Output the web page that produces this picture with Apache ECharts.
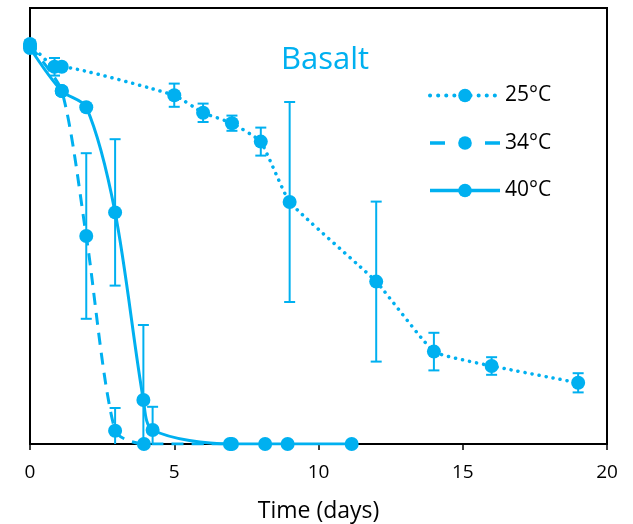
<!DOCTYPE html>
<html>
<head>
<meta charset="utf-8">
<script src="https://cdn.jsdelivr.net/npm/echarts@6/dist/echarts.min.js"></script>
<style>html,body{margin:0;padding:0;background:#fff;}#c{width:633px;height:524px;}</style>
</head>
<body>
<div id="c"></div>
<script>
// ---- data ----
const seriesNames = ['25°C', '34°C', '40°C'];
const days25 = [0, 0.85, 1.1, 5, 6, 7, 8, 9, 12, 14, 16, 19];
const vals25 = [1.0, 0.943, 0.943, 0.872, 0.828, 0.802, 0.756, 0.605, 0.406, 0.231, 0.195, 0.153];
const err25  = [0.01, 0.022, 0, 0.029, 0.023, 0.019, 0.035, 0.25, 0.20, 0.047, 0.022, 0.024];
const days34 = [0, 1.1, 1.95, 2.95, 3.95, 7];
const vals34 = [0.995, 0.8825, 0.52, 0.033, 0, 0];
const err34  = [0, 0, 0.207, 0.057, 0, 0];
const days40 = [0, 1.1, 1.95, 2.95, 3.93, 4.25, 6.93, 8.15, 8.93, 11.15];
const vals40 = [0.99, 0.8825, 0.842, 0.579, 0.11, 0.035, 0, 0, 0, 0];
const err40  = [0, 0.01, 0, 0.183, 0.1875, 0.058, 0, 0, 0, 0];
const xTicks = [0, 5, 10, 15, 20];
const titleText = 'Basalt';
const xAxisTitle = 'Time (days)';

const COLOR = '#00B0F0';
const YMAX = 1.09;
const FONT = 'Open Sans';

function pts(d, v) { return d.map((x, i) => [x, v[i]]); }
function errPts(d, v, e) { return d.map((x, i) => [x, v[i], e[i]]); }

function renderErr(params, api) {
  const x = api.value(0), y = api.value(1), e = api.value(2);
  if (!e) return null;
  const lo = y - e, hi = y + e;
  const top = api.coord([x, Math.min(hi, YMAX)]);
  const bot = api.coord([x, Math.max(lo, 0)]);
  const cw = 5.5;
  const st = { stroke: COLOR, lineWidth: 2 };
  const children = [
    { type: 'line', shape: { x1: top[0], y1: top[1], x2: bot[0], y2: bot[1] }, style: st },
    { type: 'line', shape: { x1: top[0] - cw, y1: top[1], x2: top[0] + cw, y2: top[1] }, style: st }
  ];
  if (lo >= 0) children.push({ type: 'line', shape: { x1: bot[0] - cw, y1: bot[1], x2: bot[0] + cw, y2: bot[1] }, style: st });
  return { type: 'group', children };
}

const lineTypes = [[0.1, 7], [12, 8], 'solid'];
const legendLineTypes = [[0.1, 8], [15, 40], 'solid'];
const smooths = [0.12, 0.25, 0.3];
const datasets = [[days25, vals25, err25], [days34, vals34, err34], [days40, vals40, err40]];

const series = [];
datasets.forEach((ds, i) => {
  series.push({
    type: 'custom', name: 'err' + i, renderItem: renderErr,
    data: errPts(ds[0], ds[1], ds[2]), encode: { x: 0, y: 1 }, z: 3, silent: true
  });
});
datasets.forEach((ds, i) => {
  series.push({
    type: 'line', name: seriesNames[i], data: pts(ds[0], ds[1]),
    smooth: smooths[i],
    symbol: 'circle', symbolSize: 14, showSymbol: true,
    itemStyle: { color: COLOR },
    lineStyle: { color: COLOR, width: i === 0 ? 3.5 : 3, type: lineTypes[i], cap: i === 0 ? 'round' : 'butt' },
    z: 4, animation: false
  });
});

const chart = echarts.init(document.getElementById('c'));
chart.setOption({
  animation: false,
  backgroundColor: '#fff',
  title: {
    text: titleText, left: 281, top: 45, padding: 0,
    textStyle: { color: COLOR, fontFamily: FONT, fontSize: 31, fontWeight: 'normal' }
  },
  legend: {
    data: seriesNames.map((n, i) => ({
      name: n,
      lineStyle: { type: legendLineTypes[i], width: i === 0 ? 4 : 3.5, cap: i === 0 ? 'round' : 'butt' }
    })),
    orient: 'vertical', left: 428, top: 85, padding: 0,
    itemWidth: 70, itemHeight: 17, itemGap: 26.5,
    textStyle: { fontFamily: FONT, fontSize: 21, color: '#000', lineHeight: 20 }
  },
  grid: { left: 30, right: 26, top: 8, bottom: 80, show: true, borderColor: '#000', borderWidth: 2,
          containLabel: false, outerBoundsMode: 'none' },
  xAxis: {
    type: 'value', min: xTicks[0], max: xTicks[xTicks.length - 1], interval: 5,
    name: xAxisTitle, nameLocation: 'middle', nameGap: 56,
    nameTextStyle: { fontFamily: FONT, fontSize: 23, color: '#000' },
    axisLine: { lineStyle: { color: '#000', width: 2 } },
    axisTick: { show: true, inside: false, length: 6, lineStyle: { color: '#000', width: 1.5 } },
    axisLabel: { fontFamily: FONT, fontSize: 19, color: '#000', margin: 19 },
    splitLine: { show: false }
  },
  yAxis: {
    type: 'value', min: 0, max: YMAX,
    axisLine: { show: true, lineStyle: { color: '#000', width: 2 } },
    axisTick: { show: false }, axisLabel: { show: false }, splitLine: { show: false }
  },
  series
});
</script>
</body>
</html>
